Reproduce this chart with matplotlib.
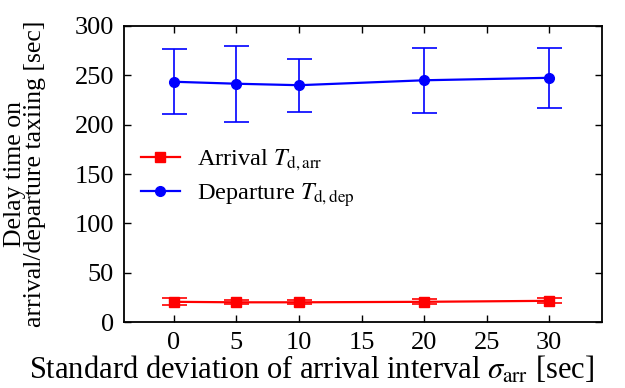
import numpy as np
import matplotlib
matplotlib.use("Agg")
import matplotlib.pyplot as plt

plt.rcParams["font.family"] = ["Liberation Serif", "DejaVu Serif"]
plt.rcParams["mathtext.fontset"] = "stix"

# dane
sigma = [0, 5, 10, 20, 30]
arr_mean = [20.5, 20, 20, 20.5, 21.5]
arr_err = [3.5, 2, 2, 2.5, 2.5]
dep_mean = [243.5, 241.5, 240, 245, 247.5]
dep_lo = [211, 203, 213, 212, 216.5]
dep_hi = [276.5, 279.5, 266.5, 277.5, 277.5]
xticks = [0, 5, 10, 15, 20, 25, 30]
yticks = [0, 50, 100, 150, 200, 250, 300]

dep_yerr = [np.array(dep_mean) - np.array(dep_lo), np.array(dep_hi) - np.array(dep_mean)]

fig = plt.figure(figsize=(6.25, 3.88), dpi=100)
ax = fig.add_axes([0.198, 0.170, 0.765, 0.763])

# słupki błędów (bez etykiet, żeby legenda ich nie pokazywała)
ax.errorbar(sigma, arr_mean, yerr=arr_err, fmt="none", ecolor="#ff0000",
            elinewidth=1.2, capsize=9, capthick=1.2)
ax.errorbar(sigma, dep_mean, yerr=dep_yerr, fmt="none", ecolor="#0000ff",
            elinewidth=1.2, capsize=9, capthick=1.2)
ax.plot(sigma, arr_mean, color="#ff0000", marker="s", markersize=6.5, linewidth=1.6,
        label=r"Arrival $T_{\mathrm{d,arr}}$")
ax.plot(sigma, dep_mean, color="#0000ff", marker="o", markersize=7, linewidth=1.6,
        label=r"Departure $T_{\mathrm{d,dep}}$")

ax.set_xlim(-4, 34.2)
ax.set_ylim(0, 300)
ax.set_xticks(xticks)
ax.set_yticks(yticks)
ax.tick_params(direction="in", length=5, width=1, top=True, right=True, labelsize=19, pad=7)
for s in ax.spines.values():
    s.set_linewidth(1.3)

ax.set_xlabel(r"Standard deviation of arrival interval $\sigma_{\mathrm{arr}}$ [sec]", fontsize=22)
ax.xaxis.set_label_coords(0.393, -0.11)
ax.set_ylabel("Delay time on\narrival/departure taxiing [sec]", fontsize=18.5, linespacing=0.9)
ax.yaxis.set_label_coords(-0.163, 0.5)

ax.legend(loc="upper left", bbox_to_anchor=(0.0, 0.645), frameon=False, fontsize=17.5,
          handlelength=1.6, handletextpad=0.7, labelspacing=0.3, borderaxespad=0.3)

fig.savefig("out.png", dpi=100)
